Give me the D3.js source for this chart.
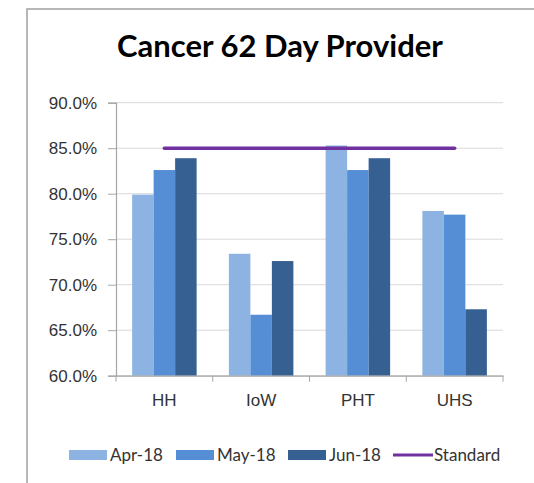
<!DOCTYPE html>
<html>
<head>
<meta charset="utf-8">
<script src="https://cdn.jsdelivr.net/npm/d3@7"></script>
<style>
  body { margin: 0; background: #fff; }
  svg { display: block; font-family: Lato, "Open Sans", sans-serif; }
</style>
</head>
<body>
<figure id="chart" style="margin:0"></figure>
<script>
const providers = ['HH', 'IoW', 'PHT', 'UHS'];
const months = ['Apr-18', 'May-18', 'Jun-18'];
const apr18 = [79.9, 73.4, 85.3, 78.1];
const may18 = [82.6, 66.7, 82.6, 77.7];
const jun18 = [83.9, 72.6, 83.9, 67.3];
const standard = [85, 85, 85, 85];
const yTicks = [60, 65, 70, 75, 80, 85, 90];

const colors = ['#8db3e2', '#558ed5', '#366092'];
const standardColor = '#7030a0';

const width = 534, height = 483;
const plot = { left: 116, right: 503, top: 102.7, bottom: 375.7 };

const svg = d3.select('#chart')
  .append('svg')
  .attr('width', width)
  .attr('height', height);

// chart frame
svg.append('rect')
  .attr('x', 27).attr('y', 9)
  .attr('width', width).attr('height', height)
  .attr('fill', 'none')
  .attr('stroke', '#a0a0a0')
  .attr('stroke-width', 1.5);

svg.append('text')
  .attr('x', 280).attr('y', 57)
  .attr('text-anchor', 'middle')
  .attr('font-size', 31)
  .attr('font-weight', 'bold')
  .attr('fill', '#000')
  .text('Cancer 62 Day Provider');

const x = d3.scaleBand()
  .domain(providers)
  .range([plot.left, plot.right]);

// the three bars cover the middle 2/3 of each category
const inner = d3.scaleBand()
  .domain(months)
  .range([x.bandwidth() / 6, x.bandwidth() * 5 / 6]);

const y = d3.scaleLinear()
  .domain([60, 90])
  .range([plot.bottom, plot.top]);

// gridlines
svg.append('g')
  .selectAll('line')
  .data(yTicks)
  .enter()
  .append('line')
  .attr('x1', plot.left)
  .attr('x2', plot.right)
  .attr('y1', d => y(d))
  .attr('y2', d => y(d))
  .attr('stroke', '#d9d9d9')
  .attr('stroke-width', 1);

// y axis
const yAxis = svg.append('g')
  .attr('transform', 'translate(' + plot.left + ',0)')
  .call(d3.axisLeft(y).tickValues(yTicks).tickSize(8).tickPadding(11)
    .tickFormat(d => d.toFixed(1) + '%'));
yAxis.select('.domain').attr('stroke', '#a6a6a6').attr('stroke-width', 1.2);
yAxis.selectAll('.tick line').attr('stroke', '#a6a6a6');
yAxis.selectAll('.tick text').attr('font-size', 17).attr('fill', '#333');

// bars
const series = [apr18, may18, jun18];
const groups = svg.append('g')
  .selectAll('g')
  .data(series)
  .enter()
  .append('g')
  .attr('fill', (d, i) => colors[i]);

groups.selectAll('rect')
  .data((d, i) => d.map((v, j) => ({ v: v, p: providers[j], m: months[i] })))
  .enter()
  .append('rect')
  .attr('x', d => x(d.p) + inner(d.m))
  .attr('width', inner.bandwidth())
  .attr('y', d => y(d.v))
  .attr('height', d => y(60) - y(d.v));

// x axis
const xAxis = svg.append('g')
  .attr('transform', 'translate(0,' + plot.bottom + ')')
  .call(d3.axisBottom(x).tickSize(0).tickPadding(18));
xAxis.select('.domain').attr('stroke', '#a6a6a6').attr('stroke-width', 1.2);
xAxis.selectAll('.tick text').attr('font-size', 17).attr('fill', '#333');
xAxis.selectAll('.sep')
  .data(d3.range(providers.length + 1))
  .enter()
  .append('line')
  .attr('x1', i => plot.left + i * x.step())
  .attr('x2', i => plot.left + i * x.step())
  .attr('y1', 0).attr('y2', 6)
  .attr('stroke', '#a6a6a6');

// standard line
const line = d3.line()
  .x((d, i) => x(providers[i]) + x.bandwidth() / 2)
  .y(d => y(d));
svg.append('path')
  .datum(standard)
  .attr('d', line)
  .attr('fill', 'none')
  .attr('stroke', standardColor)
  .attr('stroke-width', 3.5)
  .attr('stroke-linecap', 'round');

// legend
const legendItems = [
  { label: 'Apr-18', color: colors[0], x: 69 },
  { label: 'May-18', color: colors[1], x: 176 },
  { label: 'Jun-18', color: colors[2], x: 288 },
  { label: 'Standard', color: standardColor, x: 393, line: true }
];
const legend = svg.append('g').attr('transform', 'translate(0,455)');
legendItems.forEach(d => {
  if (d.line) {
    legend.append('line')
      .attr('x1', d.x).attr('x2', d.x + 40)
      .attr('y1', 0).attr('y2', 0)
      .attr('stroke', d.color).attr('stroke-width', 3);
  } else {
    legend.append('rect')
      .attr('x', d.x).attr('y', -5)
      .attr('width', 38).attr('height', 10)
      .attr('fill', d.color);
  }
  legend.append('text')
    .attr('x', d.x + 41).attr('y', 6)
    .attr('font-size', 17).attr('fill', '#333')
    .text(d.label);
});
</script>
</body>
</html>
